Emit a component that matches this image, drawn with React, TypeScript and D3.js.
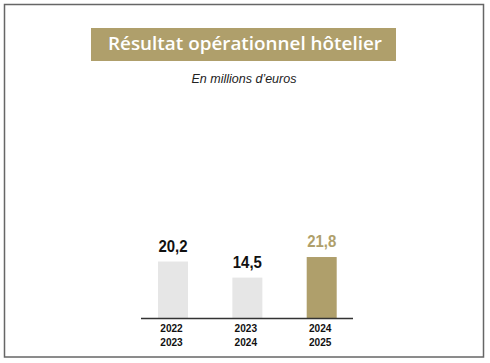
import React, { useEffect, useRef } from 'react';
import * as d3 from 'd3';

const periods = [['2022', '2023'], ['2023', '2024'], ['2024', '2025']];
const values = [20.2, 14.5, 21.8];
const labels = ['20,2', '14,5', '21,8'];

const W = 490;
const H = 363;
const GOLD = '#af9f6b';

const App: React.FC = () => {
  const ref = useRef<SVGSVGElement>(null);

  useEffect(() => {
    if (!ref.current) return;
    const svg = d3.select(ref.current);
    svg.selectAll('*').remove();

    // frame
    svg.append('rect')
      .attr('x', 4.5).attr('y', 4.5)
      .attr('width', 479).attr('height', 352.5)
      .attr('fill', 'white')
      .attr('stroke', '#666')
      .attr('stroke-width', 1.5);

    // title banner
    svg.append('rect')
      .attr('x', 91).attr('y', 28)
      .attr('width', 305).attr('height', 33)
      .attr('fill', GOLD);

    svg.append('text')
      .attr('x', 245).attr('y', 50)
      .attr('text-anchor', 'middle')
      .attr('textLength', 274)
      .attr('lengthAdjust', 'spacingAndGlyphs')
      .style('font-family', '"Open Sans", "Noto Sans", sans-serif')
      .style('font-weight', 600)
      .style('font-size', '18.5px')
      .style('fill', 'white')
      .text('Résultat opérationnel hôtelier');

    svg.append('text')
      .attr('x', 244).attr('y', 83)
      .attr('text-anchor', 'middle')
      .style('font-family', '"Liberation Sans", Arial, sans-serif')
      .style('font-style', 'italic')
      .style('font-size', '12.5px')
      .style('fill', '#222')
      .text('En millions d\u2019euros');

    const idx = values.map((_, i) => i);
    const x = d3.scalePoint<number>().domain(idx).range([173, 321.7]);
    const y = d3.scaleLinear().domain([0, 25]).range([318.5, 318.5 - 25 * 2.82]);
    const bw = 30;

    svg.append('g')
      .selectAll('rect')
      .data(idx)
      .enter()
      .append('rect')
      .attr('x', (i) => (x(i) as number) - bw / 2)
      .attr('y', (i) => y(values[i]))
      .attr('width', bw)
      .attr('height', (i) => y(0) - y(values[i]))
      .attr('fill', (i) => (i === 2 ? GOLD : '#e6e6e6'));

    // baseline
    svg.append('line')
      .attr('x1', 141).attr('x2', 353)
      .attr('y1', y(0)).attr('y2', y(0))
      .attr('stroke', '#333')
      .attr('stroke-width', 1.3);

    const font = '"Liberation Sans", Arial, sans-serif';

    // value labels, squeezed a little like a condensed face
    svg.append('g')
      .selectAll('text')
      .data(idx)
      .enter()
      .append('text')
      .attr('transform', (i) => `translate(${x(i)},${y(values[i]) - 10}) scale(0.88,1)`)
      .attr('text-anchor', 'middle')
      .style('font-family', font)
      .style('font-weight', 'bold')
      .style('font-size', '17px')
      .style('fill', (i) => (i === 2 ? GOLD : '#111'))
      .text((i) => labels[i]);

    const cats = svg.append('g')
      .selectAll('text')
      .data(idx)
      .enter()
      .append('text')
      .attr('transform', (i) => `translate(${(x(i) as number) - 1.5},0) scale(0.92,1)`)
      .attr('text-anchor', 'middle')
      .style('font-family', font)
      .style('font-weight', 'bold')
      .style('font-size', '11px')
      .style('fill', '#111');

    cats.append('tspan')
      .attr('x', 0)
      .attr('y', 332.5)
      .text((i) => periods[i][0]);
    cats.append('tspan')
      .attr('x', 0)
      .attr('y', 346.5)
      .text((i) => periods[i][1]);
  }, []);

  return (
    <svg
      ref={ref}
      width={W}
      height={H}
      style={{ position: 'absolute', left: 0, top: 0, background: 'white' }}
    ></svg>
  );
};

export default App;
